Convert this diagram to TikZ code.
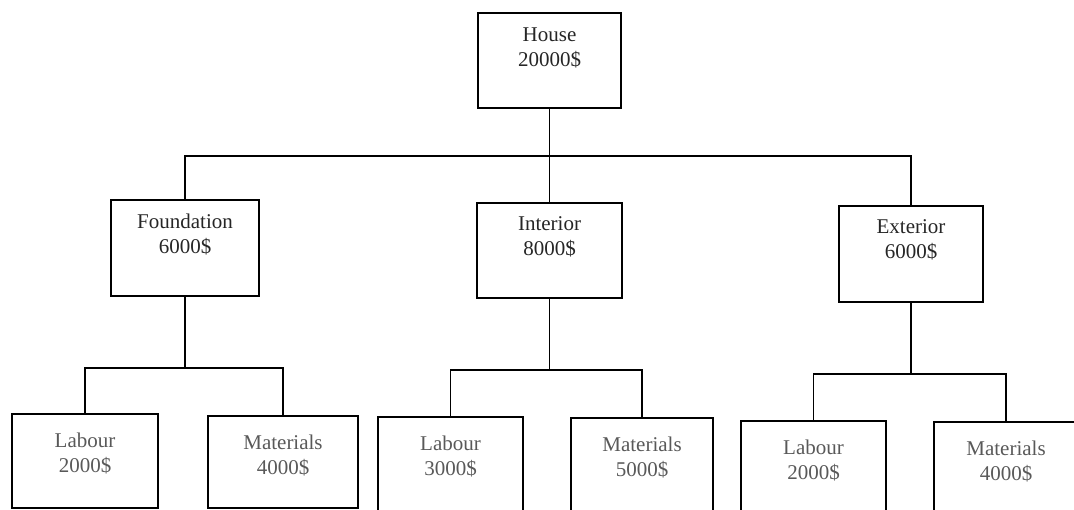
\documentclass[tikz,border=0pt]{standalone}
\usepackage{fontspec}
\setmainfont{Liberation Serif}
\begin{document}
\begin{tikzpicture}[x=1pt,y=-1pt,
  box/.style={draw=black, line width=1.3pt, rectangle, inner sep=0pt},
  wire/.style={draw=black, line width=1.3pt},
  lbl/.style={anchor=north, align=center, inner sep=0pt,
    font=\fontsize{21}{25}\selectfont, text=black!85},
  sublbl/.style={lbl, text=black!65}]
\useasboundingbox (0,0) rectangle (1074,510);
\clip (0,0) rectangle (1074,510);

% top level
\node[box, minimum width=143pt, minimum height=95pt] (house) at (549.5,60.5) {};
\node[lbl] (houseT) at ([yshift=-15pt]house.north) {House\\20000\$};

% second level
\node[box, minimum width=148pt, minimum height=96pt] (found) at (185,248) {};
\node[lbl] (foundT) at ([yshift=-14pt]found.north) {Foundation\\6000\$};
\node[box, minimum width=145pt, minimum height=95pt] (inter) at (549.5,250.5) {};
\node[lbl] (interT) at ([yshift=-14pt]inter.north) {Interior\\8000\$};
\node[box, minimum width=144pt, minimum height=96pt] (exter) at (911,254) {};
\node[lbl] (exterT) at ([yshift=-14pt]exter.north) {Exterior\\6000\$};

% third level
\node[box, minimum width=146pt, minimum height=94pt] (lab1) at (85,461) {};
\node[sublbl] (lab1T) at ([yshift=-19pt]lab1.north) {Labour\\2000\$};
\node[box, minimum width=150pt, minimum height=92pt] (mat1) at (283,462) {};
\node[sublbl] (mat1T) at ([yshift=-19pt]mat1.north) {Materials\\4000\$};
\node[box, minimum width=145pt, minimum height=96pt] (lab2) at (450.5,465) {};
\node[sublbl] (lab2T) at ([yshift=-19pt]lab2.north) {Labour\\3000\$};
\node[box, minimum width=142pt, minimum height=96pt] (mat2) at (642,466) {};
\node[sublbl] (mat2T) at ([yshift=-19pt]mat2.north) {Materials\\5000\$};
\node[box, minimum width=145pt, minimum height=96pt] (lab3) at (813.5,469) {};
\node[sublbl] (lab3T) at ([yshift=-19pt]lab3.north) {Labour\\2000\$};
\node[box, minimum width=144pt, minimum height=96pt] (mat3) at (1006,470) {};
\node[sublbl] (mat3T) at ([yshift=-19pt]mat3.north) {Materials\\4000\$};

% bus lines
\coordinate (bus) at (549.5,156);
\coordinate (fbus) at (185,368);
\coordinate (ibus) at (549.5,370);
\coordinate (ebus) at (911,374);

\draw[wire] (house.south) -- (inter.north);
\draw[wire] (found.north) |- (bus) -| (exter.north);

\draw[wire] (found.south) -- (fbus);
\draw[wire] (lab1.north) |- (fbus) -| (mat1.north);
\draw[wire] (inter.south) -- (ibus);
\draw[wire] (lab2.north) |- (ibus) -| (mat2.north);
\draw[wire] (exter.south) -- (ebus);
\draw[wire] (lab3.north) |- (ebus) -| (mat3.north);
\end{tikzpicture}
\end{document}
